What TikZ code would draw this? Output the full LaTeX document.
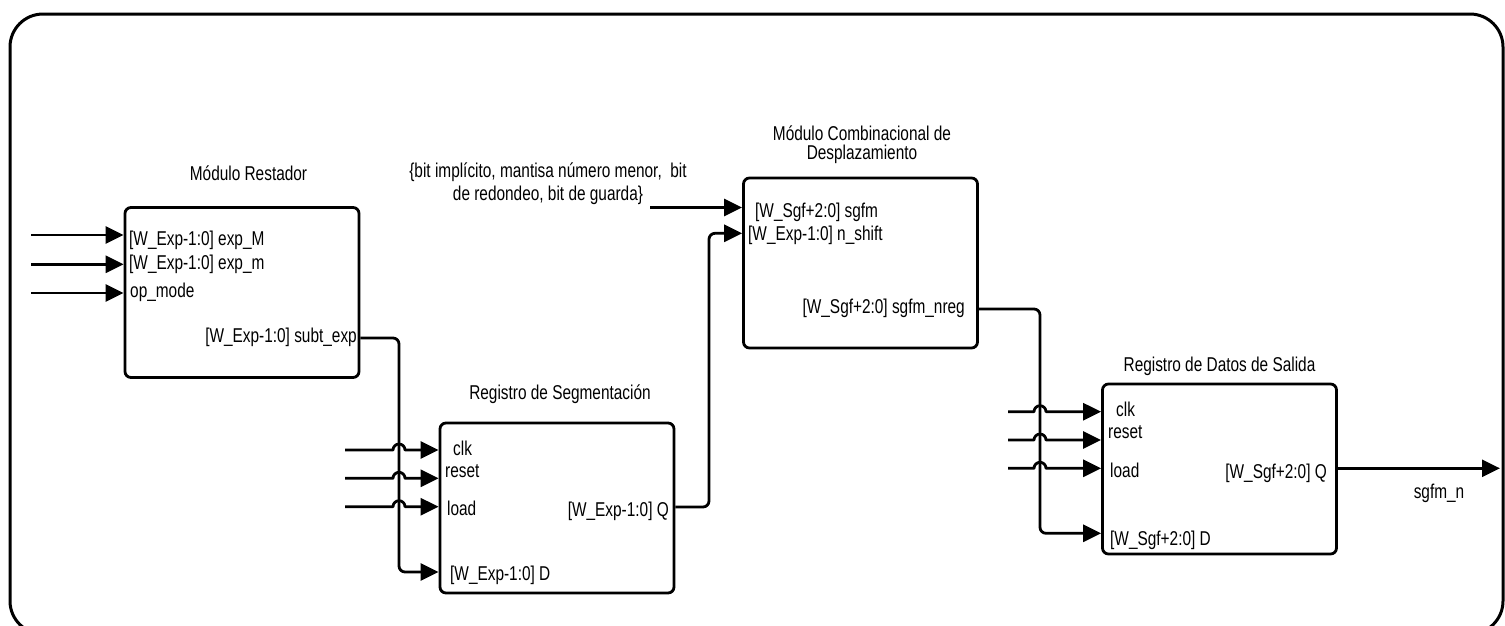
\documentclass[tikz,border=0pt]{standalone}
\usepackage{fontspec}
\setmainfont{Liberation Sans}[FakeStretch=0.77]
\usetikzlibrary{arrows.meta,calc}

\begin{document}
\begin{tikzpicture}[x=1pt,y=-1pt,
  wire/.style={line width=2.8pt, line join=round},
  sig/.style={wire,-{Triangle[length=18pt,width=17pt]}},
  blk/.style={draw, line width=2.8pt, rounded corners=6pt,
    minimum width=234pt, minimum height=170pt, inner sep=0pt},
  lbl/.style={font=\fontsize{20pt}{20pt}\selectfont, inner sep=0pt},
  ttl/.style={lbl, align=center},
  hop/.style={radius=6pt, start angle=180, end angle=0},
]
\useasboundingbox (0,0) rectangle (1505,625);

% outer frame
\draw[line width=3pt, rounded corners=33pt] (10,14) rectangle (1503,634);

% blocks
\node[blk] (A) at (242,292.5) {};
\node[blk] (B) at (557,508) {};
\node[blk] (C) at (860.5,263) {};
\node[blk] (D) at (1219.5,469) {};

% block titles (base = baseline of the last line)
\node[ttl, anchor=base] (tA) at (248.5,180) {Módulo Restador};
\node[ttl, anchor=base] (tB) at (560,399) {Registro de Segmentación};
\node[ttl, anchor=base] (tC) at (862,159) {Módulo Combinacional de\\[-1pt]Desplazamiento};
\node[ttl, anchor=base] (tD) at (1219.5,371.5) {Registro de Datos de Salida};

% vertical runs of the inter-block wires
\coordinate (jAB) at (399,0);
\coordinate (jBC) at (709,0);
\coordinate (jCD) at (1040,0);

% Modulo Restador inputs
\coordinate (a1) at (31,235);
\coordinate (a2) at (31,264.3);
\coordinate (a3) at (31,293);
\foreach \p in {a1,a2,a3} \draw[sig] (\p) -- (\p -| A.west);
\node[lbl, anchor=base west] (pa1) at (129,245) {[W\_Exp-1:0] exp\_M};
\node[lbl, anchor=base west] (pa2) at (129,269) {[W\_Exp-1:0] exp\_m};
\node[lbl, anchor=base west] (pa3) at (130,297) {op\_mode};
\node[lbl, anchor=base east] (pa4) at (357,342) {[W\_Exp-1:0] subt\_exp};

% subt_exp -> D of Registro de Segmentacion
\draw[sig, rounded corners=6pt] (A.east |- 0,338) -| (jAB |- 0,572) -- (B.west |- 0,572);

% Registro de Segmentacion control inputs, hopping over the wire
\foreach \p/\y in {b1/450, b2/478.3, b3/506.7} {
  \coordinate (\p) at (345,\y);
  \draw[sig] (\p) -- ([xshift=-6pt]\p -| jAB) arc[hop] -- (\p -| B.west);
}
\node[lbl, anchor=base west] (pb1) at (453,455) {clk};
\node[lbl, anchor=base west] (pb2) at (445,477) {reset};
\node[lbl, anchor=base west] (pb3) at (447,515) {load};
\node[lbl, anchor=base west] (pb4) at (450,580) {[W\_Exp-1:0] D};
\node[lbl, anchor=base east] (pb5) at (669,516) {[W\_Exp-1:0] Q};

% Q -> n_shift
\draw[sig, rounded corners=6pt] (B.east |- 0,507) -| (jBC |- 0,233.3) -- (C.west |- 0,233.3);

% external significand input
\node[ttl, anchor=base] (ext) at (548,200.5)
  {\{bit implícito, mantisa número menor,\ \ bit\\[3pt]de redondeo, bit de guarda\}};
\coordinate (c1) at (650,207.5);
\draw[sig] (c1) -- (c1 -| C.west);
\node[lbl, anchor=base west] (pc1) at (755,217) {[W\_Sgf+2:0] sgfm};
\node[lbl, anchor=base west] (pc2) at (748,240) {[W\_Exp-1:0] n\_shift};
\node[lbl, anchor=base east] (pc3) at (965,313) {[W\_Sgf+2:0] sgfm\_nreg};

% sgfm_nreg -> D of Registro de Datos de Salida
\draw[sig, rounded corners=6pt] (C.east |- 0,309) -| (jCD |- 0,533.3) -- (D.west |- 0,533.3);

% Registro de Datos de Salida control inputs
\foreach \p/\y in {d1/411.7, d2/440, d3/468.3} {
  \coordinate (\p) at (1008,\y);
  \draw[sig] (\p) -- ([xshift=-6pt]\p -| jCD) arc[hop] -- (\p -| D.west);
}
\node[lbl, anchor=base west] (pd1) at (1116,416) {clk};
\node[lbl, anchor=base west] (pd2) at (1108,438) {reset};
\node[lbl, anchor=base west] (pd3) at (1110,477) {load};
\node[lbl, anchor=base west] (pd4) at (1110,545) {[W\_Sgf+2:0] D};
\node[lbl, anchor=base east] (pd5) at (1327,478) {[W\_Sgf+2:0] Q};

% output
\coordinate (out) at (1500,468.3);
\draw[sig] (D.east |- out) -- (out);
\node[lbl, anchor=base] (po) at (1439,498) {sgfm\_n};
\end{tikzpicture}
\end{document}
